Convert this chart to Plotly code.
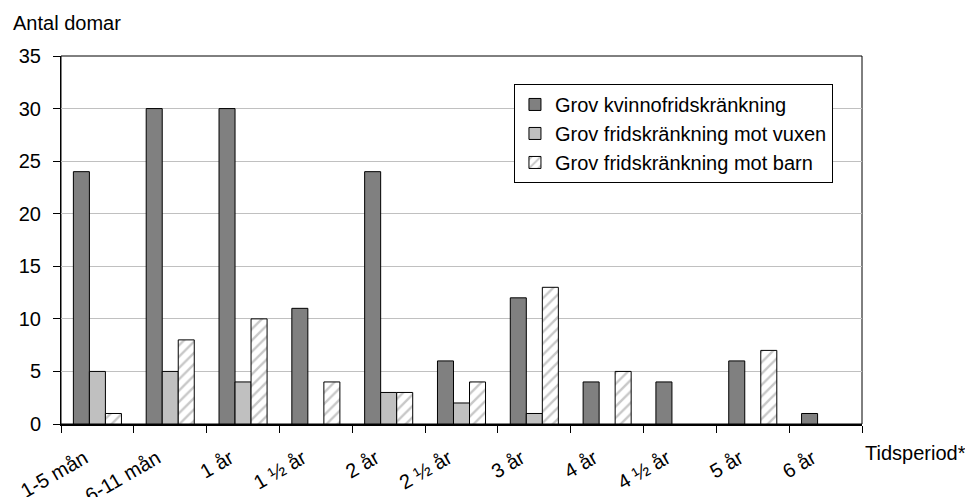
import plotly.graph_objects as go

# Tidsperiod categories and number of judgements per offence type
categories = ["1-5 mån", "6-11 mån", "1 år", "1 ½ år", "2 år", "2 ½ år",
              "3 år", "4 år", "4 ½ år", "5 år", "6 år"]
kvinnofrid = [24, 30, 30, 11, 24, 6, 12, 4, 4, 6, 1]
mot_vuxen = [5, 5, 4, 0, 3, 2, 1, 0, 0, 0, 0]
mot_barn = [1, 8, 10, 4, 3, 4, 13, 5, 0, 7, 0]
y_ticks = [0, 5, 10, 15, 20, 25, 30, 35]

FONT = "Liberation Sans, Arial, sans-serif"
FS = 20
outline = dict(color="#000000", width=1)


def nonzero(values):
    # zero counts get no bar at all (not even an outline on the axis)
    return [v if v else None for v in values]


fig = go.Figure()
fig.add_trace(go.Bar(
    x=categories, y=nonzero(kvinnofrid), name="Grov kvinnofridskränkning",
    marker=dict(color="#808080", line=outline),
))
fig.add_trace(go.Bar(
    x=categories, y=nonzero(mot_vuxen), name="Grov fridskränkning mot vuxen",
    marker=dict(color="#c0c0c0", line=outline),
))
fig.add_trace(go.Bar(
    x=categories, y=nonzero(mot_barn), name="Grov fridskränkning mot barn",
    marker=dict(
        color="#ffffff", line=outline,
        pattern=dict(shape="/", fgcolor="#c8c8c8", bgcolor="#ffffff",
                     size=8, solidity=0.3, fillmode="replace"),
    ),
))

fig.update_layout(
    width=965, height=497,
    margin=dict(l=61, r=103, t=56, b=73),
    paper_bgcolor="#ffffff", plot_bgcolor="#ffffff",
    font=dict(family=FONT, size=FS, color="#000000"),
    barmode="group", bargap=0.34, bargroupgap=0,
    showlegend=True,
    legend=dict(
        x=0.5655, y=0.924, xanchor="left", yanchor="top",
        bordercolor="#000000", borderwidth=1, bgcolor="#ffffff",
        font=dict(family=FONT, size=FS),
        traceorder="normal",
    ),
    xaxis=dict(
        type="category", tickangle=-30, automargin=False,
        tickson="boundaries", ticks="outside", ticklen=7,
        tickcolor="#000000", tickwidth=1,
        ticklabelstandoff=13, ticklabelshift=-13,
        showline=True, linecolor="#000000", linewidth=2,
        showgrid=False, zeroline=False,
        tickfont=dict(family=FONT, size=FS),
    ),
    yaxis=dict(
        range=[0, 35], tickvals=y_ticks, automargin=False,
        ticks="outside", ticklen=7, tickcolor="#000000", tickwidth=1,
        ticklabelstandoff=8,
        showline=True, linecolor="#000000", linewidth=1,
        showgrid=True, gridcolor="#c0c0c0", gridwidth=1,
        zeroline=False,
        tickfont=dict(family=FONT, size=FS),
    ),
    shapes=[dict(
        type="rect", xref="paper", yref="paper", x0=0, x1=1, y0=0, y1=1,
        line=dict(color="#000000", width=1), layer="below",
    )],
    annotations=[
        dict(text="Antal domar", xref="paper", yref="paper",
             x=-0.0625, y=1.0897, xanchor="left", yanchor="middle",
             showarrow=False, font=dict(family=FONT, size=FS)),
        dict(text="Tidsperiod*", xref="paper", yref="paper",
             x=1.0, y=-0.0788, xanchor="left", yanchor="middle", xshift=1,
             showarrow=False, font=dict(family=FONT, size=FS)),
    ],
)

fig.write_html("out.html")
